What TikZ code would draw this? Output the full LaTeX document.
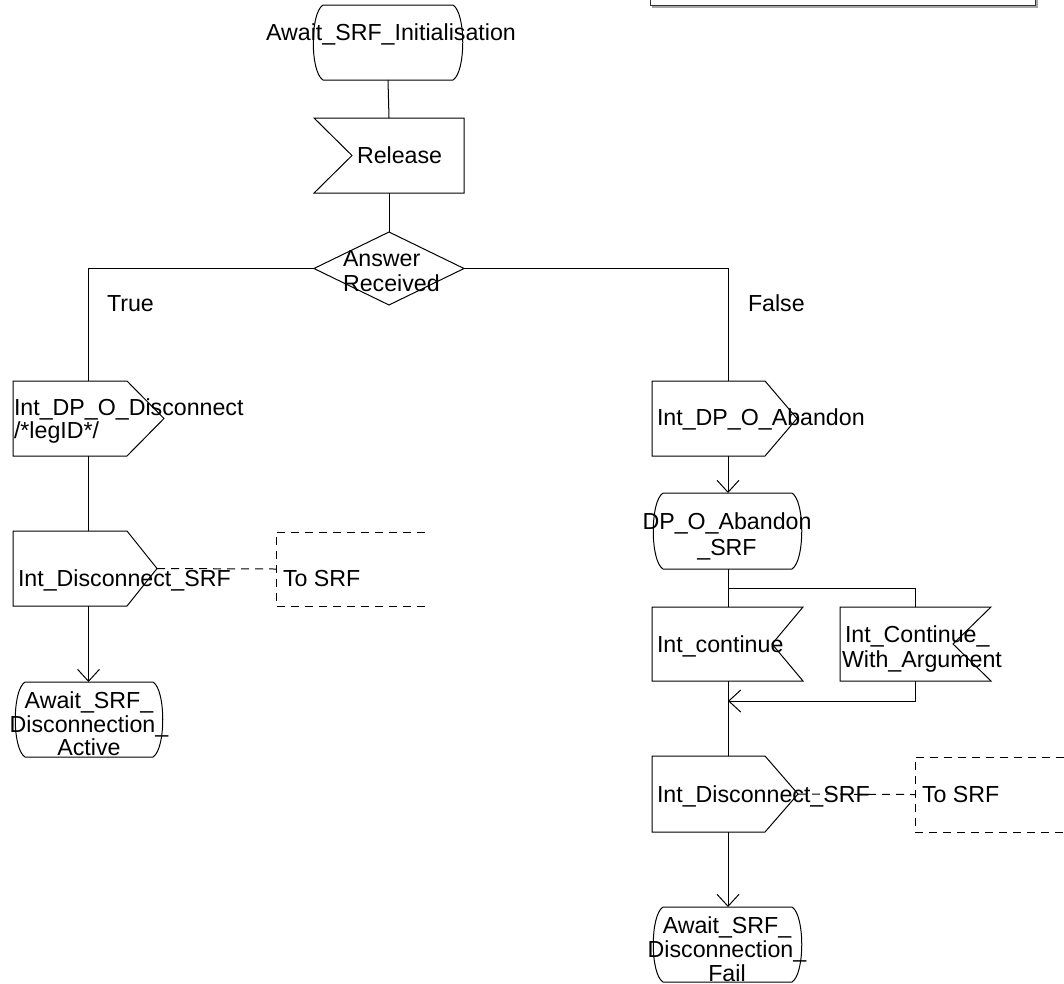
\documentclass[tikz,border=0pt]{standalone}
\usepackage{fontspec}
\setmainfont{Liberation Sans}
\usetikzlibrary{arrows.meta,calc}
\newcommand\StateOut[1]{\draw[line] ($(#1.north west)+(10,0)$) -- ($(#1.north east)+(-10,0)$) .. controls ($(#1.north east)+(3,8)$) and ($(#1.south east)+(3,-8)$) .. ($(#1.south east)+(-10,0)$) -- ($(#1.south west)+(10,0)$) .. controls ($(#1.south west)+(-3,-8)$) and ($(#1.north west)+(-3,8)$) .. ($(#1.north west)+(10,0)$) -- cycle;}
\newcommand\InL[2]{\draw[line] (#1.north west) -- (#1.north east) -- (#1.south east) -- (#1.south west) -- ($(#1.west)+(#2,0)$) -- cycle;}
\newcommand\InR[2]{\draw[line] (#1.north west) -- (#1.north east) -- ($(#1.east)+(-#2,0)$) -- (#1.south east) -- (#1.south west) -- cycle;}
\newcommand\OutS[2]{\draw[line] (#1.north west) -- ($(#1.north east)+(-#2,0)$) -- (#1.east) -- ($(#1.south east)+(-#2,0)$) -- (#1.south west) -- cycle;}
\begin{document}
\begin{tikzpicture}[x=1pt,y=-1pt,
  every node/.style={font=\fontsize{23.2}{26}\selectfont, inner sep=0pt, outer sep=0pt},
  shp/.style={draw=none, inner sep=0pt, outer sep=0pt},
  line/.style={line width=1pt, black},
  arr/.style={line width=1pt, black, -{Straight Barb[length=12pt,width=22pt]}},
  dsh/.style={line width=1pt, black, dash pattern=on 8pt off 6pt},
  lbl/.style={anchor=base west},
  clbl/.style={anchor=base},
]
\useasboundingbox (0,0) rectangle (1064,983);
% top-right frame (partly cut off)
\draw[line width=1.2pt, gray!70] (652,7) -- (1037,7) -- (1037,-5);
\draw[line width=1pt, black!80] (650,-5) -- (650,5) -- (1035,5) -- (1035,-5);

% shape nodes
\node[shp, minimum width=150pt, minimum height=75pt] (s1) at (388,42.5) {};
\node[shp, minimum width=150pt, minimum height=75pt] (rel) at (389,155.5) {};
\node[shp, minimum width=150pt, minimum height=73pt] (dia) at (389,268.5) {};
\node[shp, minimum width=151pt, minimum height=75pt] (o1) at (88.5,418.5) {};
\node[shp, minimum width=144pt, minimum height=75pt] (o2) at (85,568.5) {};
\node[shp, minimum width=149pt, minimum height=74pt] (ts1) at (350.5,569) {};
\node[shp, minimum width=148pt, minimum height=75pt] (s2) at (89,719.5) {};
\node[shp, minimum width=145pt, minimum height=75pt] (o3) at (724.5,418.5) {};
\node[shp, minimum width=149pt, minimum height=76pt] (s3) at (727.5,531) {};
\node[shp, minimum width=151pt, minimum height=74pt] (i2) at (727.5,644) {};
\node[shp, minimum width=151pt, minimum height=74pt] (i3) at (915.5,644) {};
\node[shp, minimum width=146pt, minimum height=76pt] (o4) at (725,794) {};
\node[shp, minimum width=149pt, minimum height=75pt] (ts2) at (989.5,794.5) {};
\node[shp, minimum width=149pt, minimum height=75pt] (s4) at (727.5,944.5) {};

% outlines
\StateOut{s1}
\InL{rel}{38}
\draw[line] (dia.north) -- (dia.east) -- (dia.south) -- (dia.west) -- cycle;
\OutS{o1}{37}
\OutS{o2}{30}
\draw[dsh] (ts1.north east) -- (ts1.north west) -- (ts1.south west) -- (ts1.south east);
\StateOut{s2}
\OutS{o3}{32}
\StateOut{s3}
\InR{i2}{31}
\InR{i3}{38}
\OutS{o4}{33}
\draw[dsh] (ts2.north east) -- (ts2.north west) -- (ts2.south west) -- (ts2.south east);
\StateOut{s4}

% column coordinates
\coordinate (cL) at (88.5,0);
\coordinate (cR) at (728,0);
\coordinate (br) at (728,588);
\coordinate (mg) at (728,701);

% connectors
\draw[line] (s1.south) -- (rel.north);
\draw[line] (rel.south) -- (dia.north);
\draw[line] (dia.west) -| (o1.north);
\draw[line] (dia.east) -| (cR |- o3.north);
\draw[line] (o1.south) -- (cL |- o2.north);
\draw[arr] (cL |- o2.south) -- (cL |- s2.north);
\draw[dsh] (o2.east) -- (ts1.west);
\draw[arr] (cR |- o3.south) -- (cR |- s3.north);
\draw[line] (cR |- s3.south) -- (cR |- i2.north);
\draw[line] (br) -| (i3.north);
\draw[arr] (i3.south) |- (mg);
\draw[line] (cR |- i2.south) -- (cR |- o4.north);
\draw[dsh] (o4.east) -- (ts2.west);
\draw[arr] (cR |- o4.south) -- (cR |- s4.north);

% texts
\node[clbl] (t1) at (391,40) {Await\_SRF\_Initialisation};
\node[lbl] (t2) at (357,163) {Release};
\node[lbl] (t3a) at (343,266.5) {Answer};
\node[lbl] (t3b) at (343,291.5) {Received};
\node[lbl] (tT) at (107,311) {True};
\node[lbl] (tF) at (748,311) {False};
\node[lbl] (t4a) at (14,415) {Int\_DP\_O\_Disconnect};
\node[lbl] (t4b) at (14,438) {/*legID*/};
\node[lbl] (t5) at (18,586) {Int\_Disconnect\_SRF};
\node[lbl] (t6) at (283,586) {To SRF};
\node[clbl] (t7a) at (89,708) {Await\_SRF\_};
\node[clbl] (t7b) at (89,732) {Disconnection\_};
\node[clbl] (t7c) at (89,755) {Active};
\node[lbl] (t8) at (657,425) {Int\_DP\_O\_Abandon};
\node[clbl] (t9a) at (727,529) {DP\_O\_Abandon};
\node[clbl] (t9b) at (727,555) {\_SRF};
\node[lbl] (t10) at (657,652) {Int\_continue};
\node[lbl] (t11a) at (845,642) {Int\_Continue\_};
\node[lbl] (t11b) at (842,667) {With\_Argument};
\node[lbl] (t12) at (657,802) {Int\_Disconnect\_SRF};
\node[lbl] (t13) at (922,802) {To SRF};
\node[clbl] (t14a) at (727,933) {Await\_SRF\_};
\node[clbl] (t14b) at (727,957) {Disconnection\_};
\node[clbl] (t14c) at (727,981) {Fail};
\end{tikzpicture}
\end{document}
